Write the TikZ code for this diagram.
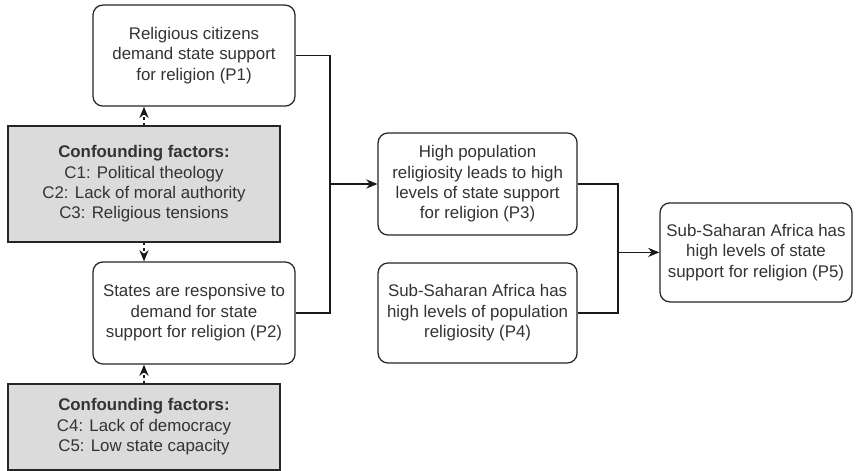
\documentclass[tikz,border=0pt]{standalone}
\usepackage{fontspec}
\setmainfont{Liberation Sans}
\usepackage{amsmath}
\usetikzlibrary{arrows.meta}

\begin{document}
\begin{tikzpicture}[auto, >={Stealth[length=8pt,width=6.5pt]},
    premise/.style ={rectangle, rounded corners=7pt, draw=black!85, line width=0.9pt,
      align=center, text=black!80, font=\fontsize{12}{14.5}\selectfont},
    confound/.style ={rectangle, draw=black!85, fill=black!14, line width=0.9pt,
      align=center, text=black!80, font=\fontsize{12}{14.5}\selectfont,
      minimum width=6.8cm},
    link/.style ={line width=0.9pt, draw=black!90},
    influence/.style ={line width=0.9pt, draw=black!90, dash pattern=on 2pt off 2pt}]
   \useasboundingbox (0,0) rectangle (21.525,-11.775);
   \node[premise, minimum width=5.05cm, minimum height=2.525cm] (P1) at (4.85,-1.39)
     {Religious citizens\\demand state support\\for religion (P1)};
   \node[confound, minimum height=2.9cm] (C1) at (3.6,-4.6)
     {\textbf{Confounding factors:}\\C1: Political theology\\C2: Lack of moral authority\\C3: Religious tensions};
   \node[premise, minimum width=5.05cm, minimum height=2.55cm] (P2) at (4.85,-7.825)
     {States are responsive to\\demand for state\\support for religion (P2)};
   \node[confound, minimum height=2.15cm] (C2) at (3.6,-10.675)
     {\textbf{Confounding factors:}\\C4: Lack of democracy\\C5: Low state capacity};
   \node[premise, minimum width=4.975cm, minimum height=2.55cm] (P3) at (11.94,-4.6)
     {High population\\religiosity leads to high\\levels of state support\\for religion (P3)};
   \node[premise, minimum width=4.975cm, minimum height=2.5cm] (P4) at (11.94,-7.825)
     {Sub-Saharan Africa has\\high levels of population\\religiosity (P4)};
   \node[premise, minimum width=4.8cm, minimum height=2.475cm] (P5) at (18.9,-6.31)
     {Sub-Saharan Africa has\\high levels of state\\support for religion (P5)};
   \coordinate (J1) at (8.25,-4.6);
   \coordinate (J2) at (15.45,-6.31);
   % premises joining
   \draw[link] (P1.east) -| (J1) |- (P2.east);
   \draw[link,->] (J1) to (P3.west);
   \draw[link] (P3.east) -| (J2) |- (P4.east);
   \draw[link,->] (J2) to (P5.west);
   % confounders
   \draw[influence,->] (C1.north) to (C1.north |- P1.south);
   \draw[influence,->] (C1.south) to (C1.south |- P2.north);
   \draw[influence,->] (C2.north) to (C2.north |- P2.south);
 \end{tikzpicture}
\end{document}
